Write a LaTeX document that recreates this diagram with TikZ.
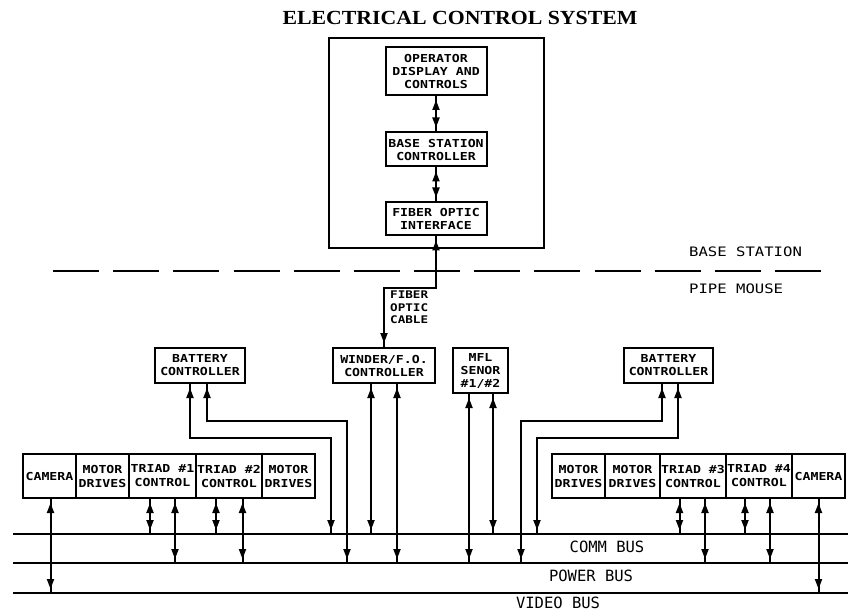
\documentclass[tikz,border=0pt]{standalone}
\usepackage{fontspec}
\usetikzlibrary{arrows.meta,decorations.markings}
\newfontfamily\cadfont[FakeStretch=1.2]{DejaVu Sans Mono}
\newfontfamily\busfont{DejaVu Sans Mono}
\newfontfamily\titlefont[FakeStretch=1.09]{Liberation Serif}
\tikzset{
  box/.style={draw, line width=2pt, inner sep=1pt, align=center,
    font=\cadfont\bfseries\fontsize{11}{13}\selectfont},
  modbox/.style={box, minimum height=44pt, font=\cadfont\bfseries\fontsize{11}{14}\selectfont},
  dbl/.style={line width=2pt, line join=miter, postaction={decorate},
    decoration={markings,
      mark=at position 4pt with {\arrowreversed{Triangle[length=10pt,width=7pt]}},
      mark=at position -4pt with {\arrow{Triangle[length=10pt,width=7pt]}}}},
  bus/.style={line width=2pt},
  lbl/.style={inner sep=0pt, anchor=base, font=\busfont\fontsize{15.5}{17}\selectfont},
  sidelbl/.style={inner sep=0pt, anchor=west, font=\cadfont\fontsize{13}{15}\selectfont},
}
\begin{document}
\begin{tikzpicture}[x=1pt,y=-1pt]
\useasboundingbox (0,0) rectangle (848,612);

% title
\node[inner sep=0pt, font=\titlefont\bfseries\fontsize{20}{22}\selectfont] (title) at (460,18) {ELECTRICAL CONTROL SYSTEM};

% base station
\node[draw, line width=2pt, minimum width=215pt, minimum height=210pt, inner sep=0pt] (bsframe) at (436.5,143) {};
\node[box, minimum width=101pt, minimum height=48pt] (op) at (436,71) {OPERATOR\\DISPLAY AND\\CONTROLS};
\node[box, minimum width=101pt, minimum height=34pt] (bsc) at (436,149.5) {BASE STATION\\CONTROLLER};
\node[box, minimum width=101pt, minimum height=33pt] (fib) at (436,219) {FIBER OPTIC\\INTERFACE};

\draw[dbl] (op.south) -- (bsc.north);
\draw[dbl] (bsc.south) -- (fib.north);

% separator
\coordinate (sepL) at (53,271);
\coordinate (sepR) at (821,271);
\draw[line width=2pt, dash pattern=on 46pt off 14.17pt] (sepL) -- (sepR);
\node[sidelbl] (bstxt) at (689,252) {BASE STATION};
\node[sidelbl] (pmtxt) at (689,289) {PIPE MOUSE};

% pipe mouse controllers
\node[box, minimum width=90pt, minimum height=35pt] (bat1) at (200,365.5) {BATTERY\\CONTROLLER};
\node[box, minimum width=102pt, minimum height=35pt] (wind) at (384,365.5) {WINDER/F.O.\\CONTROLLER};
\node[box, minimum width=55pt, minimum height=45pt] (mfl) at (480.5,370.5) {MFL\\SENOR\\\#1/\#2};
\node[box, minimum width=89pt, minimum height=35pt] (bat2) at (668.5,365.5) {BATTERY\\CONTROLLER};

\draw[dbl] (fib.south) -- ++(0,51) -| (wind.north);
\node[inner sep=0pt, anchor=north west, align=left, font=\cadfont\bfseries\fontsize{10.5}{12.5}\selectfont] (foc) at (390,291) {FIBER\\OPTIC\\CABLE};

% module rows
\node[modbox, minimum width=53pt] (camL) at (49.5,476) {CAMERA};
\node[modbox, minimum width=53pt] (motL1) at (102.5,476) {MOTOR\\DRIVES};
\node[modbox, minimum width=67pt] (tri1) at (162.5,476) {TRIAD \#1\\CONTROL};
\node[modbox, minimum width=66pt] (tri2) at (229,476) {TRIAD \#2\\CONTROL};
\node[modbox, minimum width=53pt] (motL2) at (288.5,476) {MOTOR\\DRIVES};

\node[modbox, minimum width=53pt] (motR1) at (578.5,476) {MOTOR\\DRIVES};
\node[modbox, minimum width=55pt] (motR2) at (632.5,476) {MOTOR\\DRIVES};
\node[modbox, minimum width=66pt] (tri3) at (693,476) {TRIAD \#3\\CONTROL};
\node[modbox, minimum width=66pt] (tri4) at (759,476) {TRIAD \#4\\CONTROL};
\node[modbox, minimum width=53pt] (camR) at (818.5,476) {CAMERA};

% buses
\coordinate (commL) at (13,534);  \coordinate (commR) at (848,534);
\coordinate (powL) at (13,563);   \coordinate (powR) at (848,563);
\coordinate (vidL) at (13,593);   \coordinate (vidR) at (848,593);
\draw[bus] (commL) -- (commR);
\draw[bus] (powL) -- (powR);
\draw[bus] (vidL) -- (vidR);
\node[lbl] (commtxt) at (607,552) {COMM BUS};
\node[lbl] (powtxt) at (591,581) {POWER BUS};
\node[lbl] (vidtxt) at (558,608.5) {VIDEO BUS};

% module connectors
\coordinate (cL) at ([xshift=1pt]camL.south);
\coordinate (t1a) at ([xshift=-12.5pt]tri1.south);
\coordinate (t1b) at ([xshift=12.5pt]tri1.south);
\coordinate (t2a) at ([xshift=-13pt]tri2.south);
\coordinate (t2b) at ([xshift=13.5pt]tri2.south);
\coordinate (t3a) at ([xshift=-13.5pt]tri3.south);
\coordinate (t3b) at ([xshift=12pt]tri3.south);
\coordinate (t4a) at ([xshift=-14pt]tri4.south);
\coordinate (t4b) at ([xshift=11pt]tri4.south);
\coordinate (cR) at (camR.south);

\draw[dbl] (cL) -- (cL |- vidL);
\draw[dbl] (t1a) -- (t1a |- commL);
\draw[dbl] (t1b) -- (t1b |- powL);
\draw[dbl] (t2a) -- (t2a |- commL);
\draw[dbl] (t2b) -- (t2b |- powL);
\draw[dbl] (t3a) -- (t3a |- commL);
\draw[dbl] (t3b) -- (t3b |- powL);
\draw[dbl] (t4a) -- (t4a |- commL);
\draw[dbl] (t4b) -- (t4b |- powL);
\draw[dbl] (cR) -- (cR |- vidL);

% controller connectors
\coordinate (b1a) at ([xshift=-10pt]bat1.south);
\coordinate (b1b) at ([xshift=7pt]bat1.south);
\coordinate (b2a) at ([xshift=-6.5pt]bat2.south);
\coordinate (b2b) at ([xshift=9.5pt]bat2.south);
\coordinate (w1) at ([xshift=-13pt]wind.south);
\coordinate (w2) at ([xshift=13pt]wind.south);
\coordinate (m1) at ([xshift=-11.5pt]mfl.south);
\coordinate (m2) at ([xshift=12.5pt]mfl.south);
\coordinate (p1) at (331,534);
\coordinate (p2) at (347,563);
\coordinate (p3) at (521,563);
\coordinate (p4) at (537,534);

\draw[dbl] (b1a) -- ++(0,54) -| (p1);
\draw[dbl] (b1b) -- ++(0,37) -| (p2);
\draw[dbl] (b2a) -- ++(0,37) -| (p3);
\draw[dbl] (b2b) -- ++(0,54) -| (p4);
\draw[dbl] (w1) -- (w1 |- commL);
\draw[dbl] (w2) -- (w2 |- powL);
\draw[dbl] (m1) -- (m1 |- powL);
\draw[dbl] (m2) -- (m2 |- commL);
\end{tikzpicture}
\end{document}
